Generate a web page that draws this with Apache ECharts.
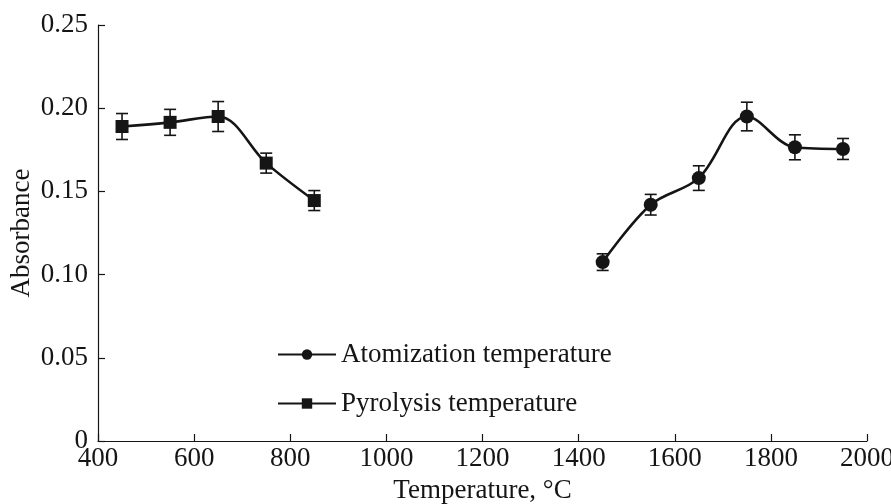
<!DOCTYPE html>
<html>
<head>
<meta charset="utf-8">
<script src="https://cdn.jsdelivr.net/npm/echarts@6/dist/echarts.min.js"></script>
<style>html,body{margin:0;padding:0;background:#fff}#c{width:891px;height:504px}</style>
</head>
<body>
<div id="c"></div>
<script>
const pyroTemps = [450, 550, 650, 750, 850];
const pyroValues = [0.189, 0.1915, 0.195, 0.167, 0.1445];
const pyroErrors = [0.0078, 0.0078, 0.009, 0.006, 0.006];
const atomTemps = [1450, 1550, 1650, 1750, 1850, 1950];
const atomValues = [0.1075, 0.142, 0.158, 0.195, 0.1765, 0.1755];
const atomErrors = [0.005, 0.0062, 0.0074, 0.0086, 0.0075, 0.0063];
const xTicks = [400, 600, 800, 1000, 1200, 1400, 1600, 1800, 2000];
const yTicks = [0, 0.05, 0.10, 0.15, 0.20, 0.25];
const seriesNames = ['Atomization temperature', 'Pyrolysis temperature'];

const font = 'Liberation Serif, Times New Roman, serif';
const ink = '#151515';
const fs = 27;

function pairs(xs, ys) { return xs.map((x, i) => [x, ys[i]]); }
function errData(xs, ys, es) { return xs.map((x, i) => [x, ys[i] - es[i], ys[i] + es[i]]); }

function errSeries(data) {
  return {
    type: 'custom',
    silent: true,
    z: 3,
    data: data,
    encode: { x: 0, y: [1, 2] },
    renderItem: function (params, api) {
      const x = api.value(0);
      const lo = api.coord([x, api.value(1)]);
      const hi = api.coord([x, api.value(2)]);
      const w = 6;
      const st = { stroke: ink, lineWidth: 1.6 };
      return {
        type: 'group',
        children: [
          { type: 'line', shape: { x1: lo[0], y1: lo[1], x2: hi[0], y2: hi[1] }, style: st },
          { type: 'line', shape: { x1: lo[0] - w, y1: lo[1], x2: lo[0] + w, y2: lo[1] }, style: st },
          { type: 'line', shape: { x1: hi[0] - w, y1: hi[1], x2: hi[0] + w, y2: hi[1] }, style: st }
        ]
      };
    }
  };
}

const chart = echarts.init(document.getElementById('c'), null, { renderer: 'canvas' });
chart.setOption({
  animation: false,
  backgroundColor: '#fff',
  grid: { left: 98, right: 24, top: 25, bottom: 63, containLabel: false, outerBoundsMode: 'none' },
  legend: {
    data: seriesNames,
    orient: 'vertical',
    left: 272,
    top: 336,
    itemWidth: 58,
    itemHeight: 13,
    itemGap: 22,
    textStyle: { fontFamily: font, fontSize: fs, color: ink },
    selectedMode: false
  },
  xAxis: {
    type: 'value',
    min: xTicks[0],
    max: xTicks[xTicks.length - 1],
    interval: 200,
    name: 'Temperature, °C',
    nameLocation: 'middle',
    nameMoveOverlap: false,
    nameGap: 36,
    nameTextStyle: { fontFamily: font, fontSize: fs, color: ink },
    axisLine: { lineStyle: { color: ink, width: 1.2 } },
    axisTick: { inside: true, length: 7, lineStyle: { color: ink, width: 1.2 } },
    axisLabel: { fontFamily: font, fontSize: fs, color: ink, margin: 4, formatter: v => String(v) },
    splitLine: { show: false }
  },
  yAxis: {
    type: 'value',
    min: yTicks[0],
    max: yTicks[yTicks.length - 1],
    interval: 0.05,
    name: 'Absorbance',
    nameLocation: 'middle',
    nameMoveOverlap: false,
    nameGap: 63,
    nameTextStyle: { fontFamily: font, fontSize: fs, color: ink },
    axisLine: { show: true, lineStyle: { color: ink, width: 1.2 } },
    axisTick: { show: true, inside: true, length: 7, lineStyle: { color: ink, width: 1.2 } },
    axisLabel: {
      fontFamily: font, fontSize: fs, color: ink, margin: 10,
      formatter: v => (v === 0 ? '0' : v.toFixed(2))
    },
    splitLine: { show: false }
  },
  series: [
    {
      name: seriesNames[0],
      type: 'line',
      data: pairs(atomTemps, atomValues),
      smooth: 0.35,
      symbol: 'circle',
      symbolSize: 14,
      z: 4,
      lineStyle: { color: ink, width: 2.6 },
      itemStyle: { color: ink }
    },
    {
      name: seriesNames[1],
      type: 'line',
      data: pairs(pyroTemps, pyroValues),
      smooth: 0.35,
      symbol: 'rect',
      symbolSize: 13,
      z: 4,
      lineStyle: { color: ink, width: 2.6 },
      itemStyle: { color: ink }
    },
    errSeries(errData(atomTemps, atomValues, atomErrors)),
    errSeries(errData(pyroTemps, pyroValues, pyroErrors))
  ]
});
</script>
</body>
</html>
